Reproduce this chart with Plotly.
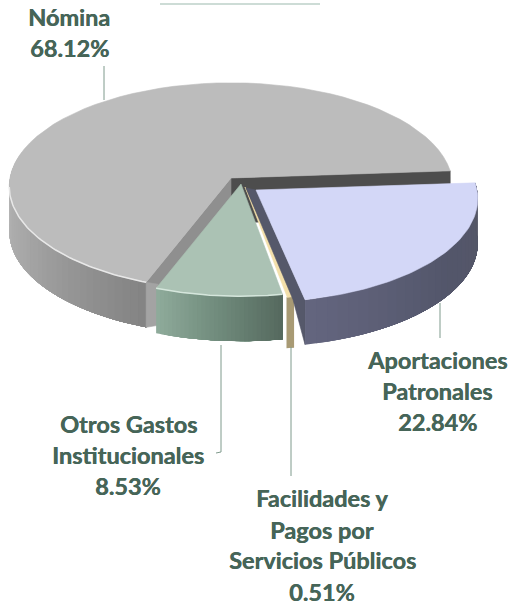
import math
import plotly.graph_objects as go

# ---- data ----
categories = ["Nómina", "Otros Gastos Institucionales", "Facilidades y Pagos por Servicios Públicos", "Aportaciones Patronales"]
values = [68.12, 8.53, 0.51, 22.84]
label_lines = [["Nómina", "68.12%"],
               ["Otros Gastos", "Institucionales", "8.53%"],
               ["Facilidades y", "Pagos por", "Servicios Públicos", "0.51%"],
               ["Aportaciones", "Patronales", "22.84%"]]

# ---- style / layout ----
W, H = 509, 606
CX, CY, RX, RY, K, DEPTH = 231, 178, 221, 103, 0.082, 45
START = 4.0
offsets = [(0, 0), (10, 6), (14, 9), (25, 12)]
depth_scale = [1.0, 1.0, 1.13, 1.0]
top_colors = ["#bcbcbc", "#abc2b4", "#f3dfaa", "#d3d7f7"]
side_stops = [["#bdbdbd", "#a6a6a6", "#838383"],
              ["#8fab9b", "#708b7c", "#55695e"],
              ["#a89a74", "#a89a74", "#a89a74"],
              ["#64667f", "#53566b", "#555766"]]
rim_colors = ["#e8e8e8", "#d5e6dc", None, None]
label_pos = [(69, [17, 48]), (128, [424, 455, 486]), (322, [498, 530, 560, 592]), (437, [360, 391, 422])]
leaders = [([104, 104], [66, 100]),
           ([221, 221, 216], [345, 452, 453]),
           ([291, 291], [347, 476]),
           ([440, 440], [303, 338])]
TEXT = "#466558"
LEAD = "#7f9a8c"


def proj(t, r=1.0, off=(0, 0), z=0.0):
    a = math.radians(t)
    X, Y = r * math.cos(a), r * math.sin(a)
    w = 1 + K * Y
    return CX + off[0] + RX * X / w, CY + off[1] - RY * Y / w + DEPTH * z


def hexrgb(c):
    return [int(c[i:i + 2], 16) for i in (1, 3, 5)]


def mix(stops, f):
    f = max(0.0, min(1.0, f)) * (len(stops) - 1)
    i = min(int(f), len(stops) - 2)
    a, b = hexrgb(stops[i]), hexrgb(stops[i + 1])
    g = f - i
    return "rgb(%d,%d,%d)" % tuple(round(a[k] + (b[k] - a[k]) * g) for k in range(3))


fig = go.Figure()


def poly(pts, color, lw=0.6):
    xs = [p[0] for p in pts] + [pts[0][0]]
    ys = [p[1] for p in pts] + [pts[0][1]]
    fig.add_trace(go.Scatter(x=xs, y=ys, mode="lines", fill="toself", fillcolor=color,
                             line=dict(color=color, width=lw), hoverinfo="skip", showlegend=False))


def arc(t0, t1, off, z=0.0, n=60):
    return [proj(t0 + (t1 - t0) * i / n, 1.0, off, z) for i in range(n + 1)]


# angular extent of every slice comes from the values
total = sum(values)
angles = []
cur = START
for v in values:
    angles.append((cur, cur + 360 * v / total))
    cur += 360 * v / total


def side(idx, t0, t1, strips=24):
    off = offsets[idx]
    z = depth_scale[idx]
    # painted back to front, each strip overlapping the next so no seams show
    for s in range(strips):
        a = t0 + (t1 - t0) * s / strips
        pts = arc(a, t1, off, 0, 16) + arc(t1, a, off, z, 16)
        poly(pts, mix(side_stops[idx], (s + 0.5) / strips), 0)


def top(idx, t0, t1):
    off = offsets[idx]
    apex = (CX + off[0], CY + off[1])
    poly([apex] + arc(t0, t1, off), top_colors[idx])


def rim(idx, t0, t1):
    if rim_colors[idx]:
        pts = arc(t0, t1, offsets[idx])
        fig.add_trace(go.Scatter(x=[p[0] for p in pts], y=[p[1] for p in pts], mode="lines",
                                 line=dict(color=rim_colors[idx], width=1.5),
                                 hoverinfo="skip", showlegend=False))


# Nómina: cut faces, outer wall, top
t0, t1 = angles[0]
apex0 = (CX, CY)
poly([apex0, proj(t0), proj(t0, z=1), (CX, CY + DEPTH)], "#4d4d4d")
poly([apex0, proj(t1), proj(t1, z=1), (CX, CY + DEPTH)], "#8f8f8f")
side(0, 165, t1, 40)
cx0, cy0 = proj(t1)
poly([(cx0, cy0), (cx0, cy0 + DEPTH), (cx0 + 12, cy0 + DEPTH - 2), (cx0 + 12, cy0 + 2)], "#a3a3a3")
top(0, t0, t1)
rim(0, 185, t1)

# Otros Gastos
t0, t1 = angles[1]
side(1, t0, t1, 30)
top(1, t0, t1)
rim(1, t0, t1)

# Facilidades
t0, t1 = angles[2]
side(2, t0, t1, 2)
top(2, t0, t1)

# Aportaciones: inner wall, outer wall, top
t0, t1 = angles[3]
o = offsets[3]
ap = (CX + o[0], CY + o[1])
c_top = proj(t0, 1, o)
c_bot = proj(t0, 1, o, 1)
poly([ap, c_top, c_bot, (c_top[0] - 12, c_top[1]), (ap[0] - 10, ap[1] - 2)], "#55586a")
side(3, t0, t1, 30)
top(3, t0, t1)

# leader lines
for lx, ly in leaders:
    fig.add_trace(go.Scatter(x=lx, y=ly, mode="lines", line=dict(color=LEAD, width=1),
                             hoverinfo="skip", showlegend=False))

# stray rule at the top of the picture
fig.add_shape(type="line", x0=160, x1=320, y0=4, y1=4, xref="x", yref="y",
              line=dict(color="#cddcd6", width=2))

# labels
for lines, (lx, lys) in zip(label_lines, label_pos):
    for text, ly in zip(lines, lys):
        fig.add_annotation(x=lx, y=ly, text="<b>%s</b>" % text, showarrow=False, xref="x", yref="y",
                           xanchor="center", yanchor="middle",
                           font=dict(family="Lato", size=23.5, color=TEXT,
                                     shadow="0.4px 0 0 %s" % TEXT))

fig.update_layout(width=W, height=H, margin=dict(l=0, r=0, t=0, b=0), showlegend=False,
                  paper_bgcolor="white", plot_bgcolor="white",
                  xaxis=dict(range=[0, W], visible=False, domain=[0, 1], fixedrange=True),
                  yaxis=dict(range=[H, 0], visible=False, domain=[0, 1], fixedrange=True))
fig.write_html("out.html", config={"displayModeBar": False},
               post_script="document.body.style.margin='0';document.documentElement.style.overflow='hidden';")
